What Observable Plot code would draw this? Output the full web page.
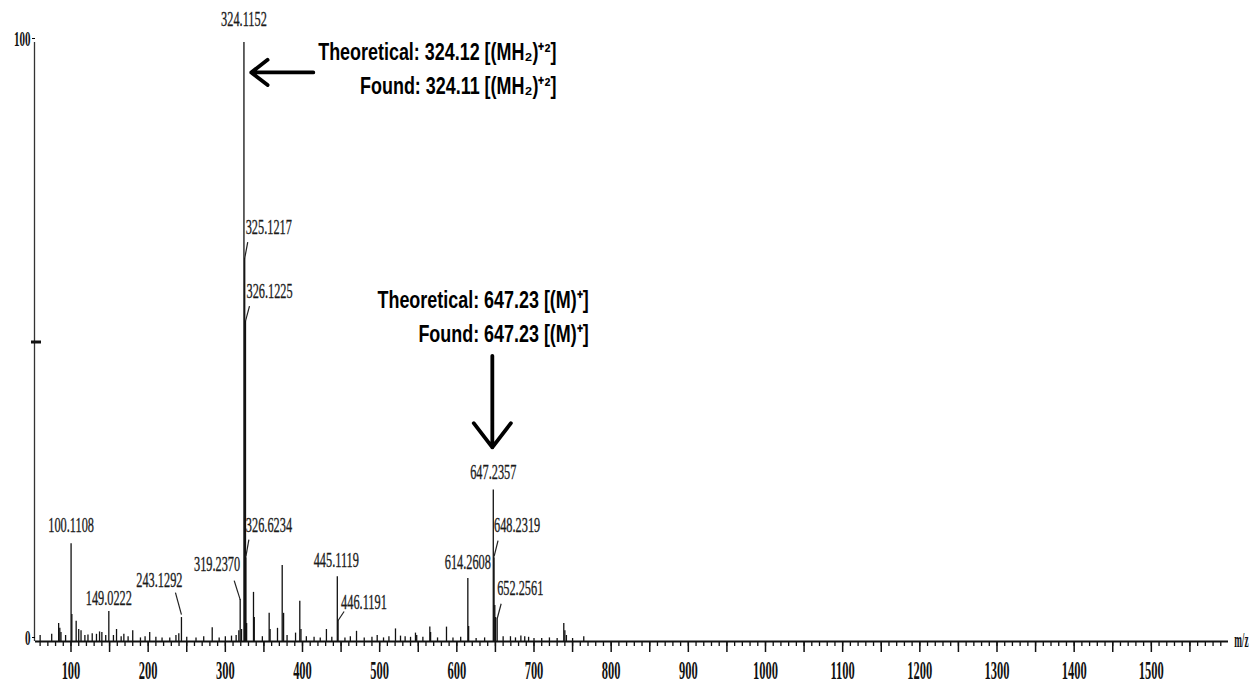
<!DOCTYPE html>
<html>
<head>
<meta charset="utf-8">
<script src="https://cdn.jsdelivr.net/npm/d3@7"></script>
<script src="https://cdn.jsdelivr.net/npm/@observablehq/plot@0.6"></script>
<style>
  body { margin: 0; background: #fff; }
</style>
</head>
<body>
<div id="chart"></div>
<script>
// ---------- DATA ----------
// every peak of the spectrum: m/z and relative intensity (%)
const peakMz = [
  60, 75, 84, 85.5, 87, 93, 100.1108, 101.1, 106.7, 110, 113, 118, 122, 127.5, 133, 137, 140, 145,
  149.0222, 155, 159, 165, 168.5, 174, 180, 190, 196, 202, 210, 218, 228, 236, 239.7, 243.1292,
  250, 262, 272, 283, 292, 300, 308, 314, 317.5, 319.2370, 321, 324.1152, 325.1217, 326.1225,
  326.6234, 327.6, 336.5, 337.5, 348, 356.8, 358, 367.6, 373.7, 375.5, 380, 391, 396.5, 398, 405,
  415, 423, 431, 438, 445.1119, 446.1191, 455, 462, 470, 480, 490, 496.8, 505, 512, 520.5, 527,
  533, 540, 546.4, 548, 556, 565, 566, 575, 586.6, 595, 605, 614.2608, 615.3, 625, 636, 647.2357,
  648.2319, 649.2, 650.2, 652.2561, 660, 669.5, 676, 683, 688, 693, 700, 710, 720, 730, 738.6,
  740, 742, 750, 764.5
];
const peakIntensity = [
  1.0, 1.2, 3.0, 2.2, 1.5, 1.0, 16.3, 4.5, 3.4, 2.0, 1.8, 1.0, 1.1, 1.3, 1.2, 1.6, 1.5, 1.0,
  5.0, 1.0, 2.0, 0.8, 1.2, 0.8, 1.8, 0.6, 0.8, 1.5, 0.7, 0.6, 0.6, 1.0, 1.3, 4.0,
  0.7, 0.6, 0.8, 2.3, 0.6, 0.8, 0.9, 1.0, 1.8, 7.0, 2.0, 100, 64, 53.5,
  14, 3.0, 8.2, 4.0, 0.8, 4.7, 2.0, 2.2, 12.7, 4.7, 1.0, 1.4, 6.7, 2.0, 0.8,
  0.7, 0.6, 2.0, 0.7, 10.8, 3.5, 0.6, 0.8, 1.7, 0.6, 0.7, 1.0, 0.6, 0.8, 2.1, 0.9,
  0.8, 0.7, 1.4, 1.0, 0.7, 2.4, 1.5, 0.6, 2.4, 0.6, 0.7, 10.5, 2.5, 0.5, 0.6, 25.3,
  14, 6.0, 4.0, 3.8, 0.8, 0.8, 0.6, 0.9, 0.8, 0.7, 0.5, 0.5, 0.6, 0.5, 3.0,
  1.8, 1.0, 0.5, 0.8
];

// labelled peaks
const labelText = ["100.1108", "149.0222", "243.1292", "319.2370", "324.1152", "325.1217", "326.1225",
  "326.6234", "445.1119", "446.1191", "614.2608", "647.2357", "648.2319", "652.2561"];
const labelMz = [100.1108, 149.0222, 243.1292, 319.2370, 324.1152, 325.1217, 326.1225,
  326.6234, 445.1119, 446.1191, 614.2608, 647.2357, 648.2319, 652.2561];
const labelIntensity = [16.3, 5.0, 4.0, 7.0, 100, 64, 53.5, 14, 10.8, 3.5, 10.5, 25.3, 14, 3.8];

// axis ticks
const xTickLabels = [100, 200, 300, 400, 500, 600, 700, 800, 900, 1000, 1100, 1200, 1300, 1400, 1500];
const yTickLabels = [0, 100];
const xAxisTitle = "m/z";

// annotations
const annotationText = [
  "Theoretical: 324.12 [(MH₂)⁺²]", "Found: 324.11 [(MH₂)⁺²]",
  "Theoretical: 647.23 [(M)⁺]", "Found: 647.23 [(M)⁺]"
];

// ---------- LAYOUT (positions / styles only) ----------
const W = 1252, H = 688;
const M = {top: 42, right: 24, bottom: 47, left: 35};
const xDomain = [54, 1600];
const yDomain = [0, 100];
const kx = (W - M.left - M.right) / (xDomain[1] - xDomain[0]);
const ky = (H - M.top - M.bottom) / (yDomain[1] - yDomain[0]);

// pixel offsets of each label from its peak top; leader [x1,y1,x2,y2] in px
const labelLayout = [
  {anchor: "middle", dx: 0, dy: -19},
  {anchor: "middle", dx: 0, dy: -14},
  {anchor: "end", dx: 1, dy: -38, leader: [-6, -25, 0, -3]},
  {anchor: "end", dx: 0, dy: -36, leader: [-6, -19, 0, 0]},
  {anchor: "middle", dx: 0, dy: -24},
  {anchor: "start", dx: 1, dy: -31, leader: [3, -16, 0, 0]},
  {anchor: "start", dx: 1, dy: -30, leader: [4, -15, 0, 0]},
  {anchor: "start", dx: 0, dy: -33, leader: [3, -18, 0, -1]},
  {anchor: "middle", dx: -1, dy: -17},
  {anchor: "start", dx: 3, dy: -19, leader: [6, -9, 0, 0]},
  {anchor: "middle", dx: 0, dy: -17},
  {anchor: "middle", dx: 0, dy: -18},
  {anchor: "start", dx: 0, dy: -33, leader: [4, -17, 0, -1]},
  {anchor: "start", dx: 0, dy: -31, leader: [4, -15, 0, 0]}
];
// annotation anchors in data space (right-aligned text)
const annotationLayout = [
  {x: 729, y: 98.3}, {x: 729, y: 92.6},
  {x: 771, y: 56.9}, {x: 771, y: 51.2}
];
const arrowLayout = [
  {x1: 414, y1: 95.0, x2: 333.5, y2: 95.0},
  {x1: 646, y1: 47.7, x2: 646, y2: 32.4}
];
// horizontal squeeze per kind of text (the original uses a compressed face)
const squeeze = {peak: 0.56, xlab: 0.4, ylab: 0.5, title: 0.42, note: 0.78};

// ---------- BUILD ----------
const peaks = peakMz.map((mz, i) => ({mz, intensity: peakIntensity[i]}));
const labels = labelText.map((t, i) => ({text: t, mz: labelMz[i], intensity: labelIntensity[i], ...labelLayout[i]}));
const leaders = labels.filter(d => d.leader).map(d => ({
  x1: d.mz + d.leader[0] / kx, y1: d.intensity - d.leader[1] / ky,
  x2: d.mz + d.leader[2] / kx, y2: d.intensity - d.leader[3] / ky
}));
const annotations = annotationText.map((t, i) => ({text: t, ...annotationLayout[i]}));

const serif = "'Liberation Serif', 'DejaVu Serif', serif";
const sans = "'Liberation Sans', Arial, sans-serif";

const marks = [
  // spectrum
  Plot.ruleX(peaks, {x: "mz", y1: 0, y2: "intensity", stroke: "#111", strokeWidth: 1.3}),
  // axes
  Plot.ruleY([0], {stroke: "#111", strokeWidth: 2}),
  Plot.ruleX([xDomain[0] - 1 / kx], {stroke: "#333", strokeWidth: 1.3}),
  Plot.axisX(d3.range(60, 1600, 10), {tickSize: 5, text: null, stroke: "#111", strokeWidth: 1.3, label: null}),
  Plot.axisX(d3.range(100, 1600, 50), {tickSize: 11, text: null, stroke: "#111", strokeWidth: 1.5, label: null}),
  Plot.axisX(xTickLabels, {tickSize: 0, tickPadding: 20, fontSize: 25, fill: "#111", fontFamily: serif,
    fontWeight: "bold", label: null, tickFormat: d => String(d)}),
  Plot.axisY([50], {tickSize: 10, text: null, stroke: "#111", strokeWidth: 3, dx: 6, label: null}),
  Plot.axisY(yTickLabels, {tickSize: 3, tickPadding: 2, fontSize: 22, fill: "#111", fontFamily: serif,
    fontWeight: "bold", label: null, dy: -4, tickFormat: d => String(d)}),
  Plot.text([xAxisTitle], {x: xDomain[1], y: 0, text: d => d, textAnchor: "end", dx: 20, dy: -2,
    fontSize: 22, fontWeight: "bold", fontFamily: serif, fill: "#111"}),
  // leaders
  Plot.link(leaders, {x1: "x1", y1: "y1", x2: "x2", y2: "y2", stroke: "#222", strokeWidth: 1.2}),
  // peak labels
  ...labels.map(d => Plot.text([d], {x: "mz", y: "intensity", text: "text", dx: d.dx, dy: d.dy,
    textAnchor: d.anchor, fontSize: 22, fontFamily: serif, fill: "#1a1a1a",
    stroke: "#1a1a1a", strokeWidth: 0.35})),
  // annotation arrows
  Plot.arrow(arrowLayout, {x1: "x1", y1: "y1", x2: "x2", y2: "y2", stroke: "#000", strokeWidth: 3.8,
    headLength: 13, headAngle: 75}),
  // annotation text
  Plot.text(annotations, {x: "x", y: "y", text: "text", textAnchor: "end", fontSize: 23,
    fontWeight: "bold", fontFamily: sans, fill: "#000"})
];

const svg = Plot.plot({
  width: W, height: H,
  marginTop: M.top, marginRight: M.right, marginBottom: M.bottom, marginLeft: M.left,
  x: {domain: xDomain},
  y: {domain: yDomain},
  style: {background: "#fff", fontFamily: serif, overflow: "visible"},
  marks
});
document.getElementById("chart").appendChild(svg);

// classify each text by its content and squeeze it horizontally about its anchor
const peakSet = new Set(labelText);
const noteSet = new Set(annotationText);
const xlabSet = new Set(xTickLabels.map(String));
svg.querySelectorAll("text").forEach(t => {
  const s = t.textContent.trim();
  let kind = null;
  if (peakSet.has(s)) kind = "peak";
  else if (noteSet.has(s)) kind = "note";
  else if (s === xAxisTitle) kind = "title";
  else if (xlabSet.has(s) || yTickLabels.map(String).includes(s)) {
    const b = t.getBBox();
    kind = (b.y > H - M.bottom - 5) ? "xlab" : "ylab";
  }
  if (!kind) return;
  const f = squeeze[kind];
  const tr = t.getAttribute("transform") || "";
  t.setAttribute("transform", `${tr} scale(${f},1)`.trim());
  if (t.hasAttribute("x")) t.setAttribute("x", (+t.getAttribute("x") / f).toFixed(2));
});
</script>
</body>
</html>
